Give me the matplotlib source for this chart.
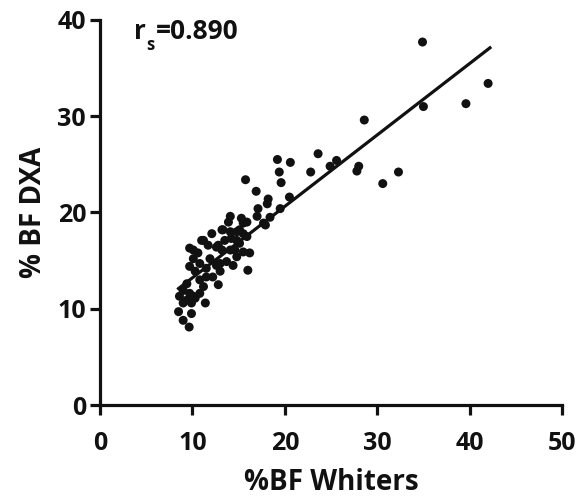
import numpy as np
import matplotlib.pyplot as plt

plt.rcParams['font.family'] = ['Open Sans', 'DejaVu Sans']
plt.rcParams['font.weight'] = 'bold'
plt.rcParams['mathtext.fontset'] = 'custom'
plt.rcParams['mathtext.rm'] = 'Open Sans:bold'
plt.rcParams['mathtext.it'] = 'Open Sans:bold'
plt.rcParams['mathtext.bf'] = 'Open Sans:bold'

# %BF Whiters (x) vs %BF DXA (y)
bf_whiters = [34.9, 42.0, 39.6, 35.0, 28.6, 23.6, 19.2, 20.6, 19.4, 19.6,
              22.8, 24.9, 25.6, 28.0, 27.8, 30.6, 32.3, 20.5, 19.5, 18.2,
              18.1, 17.9, 15.75, 16.9, 17.1, 17.0, 15.3, 15.9, 14.1, 13.9,
              15.5, 13.3, 14.1, 12.1, 11.0, 15.1, 15.9, 15.5, 14.8, 13.5,
              12.6, 9.7, 10.6, 10.1, 11.9, 13.2, 14.1, 15.1, 16.2, 14.8,
              13.7, 12.6, 11.5, 9.7, 10.3, 16.0, 14.4, 13.0, 11.5, 10.8,
              9.4, 11.2, 9.0, 12.8, 9.7, 10.8, 8.6, 9.4, 10.3, 9.0,
              9.9, 11.4, 8.5, 9.0, 9.9, 9.65, 11.2, 10.1, 12.8, 10.8,
              13.0, 12.2, 10.1, 13.2, 14.8, 11.7, 14.2, 14.6, 15.5, 18.4,
              17.7]
bf_dxa = [37.7, 33.4, 31.3, 31.0, 29.6, 26.1, 25.5, 25.2, 24.2, 23.1,
          24.2, 24.8, 25.4, 24.8, 24.3, 23.0, 24.2, 21.6, 20.4, 21.4,
          20.9, 18.7, 23.4, 22.2, 20.4, 19.6, 19.4, 19.0, 19.6, 19.0,
          18.9, 18.2, 18.0, 17.8, 17.1, 18.2, 17.5, 17.8, 17.1, 17.1,
          16.4, 16.3, 15.8, 15.2, 15.2, 16.1, 16.1, 16.8, 15.8, 15.4,
          14.9, 14.5, 14.2, 14.4, 13.9, 14.0, 14.5, 13.9, 13.3, 13.0,
          12.6, 12.3, 11.9, 12.5, 11.6, 11.6, 11.3, 10.9, 11.1, 10.6,
          10.6, 10.6, 9.7, 8.8, 9.5, 8.1, 17.1, 16.1, 16.6, 14.7,
          14.7, 13.3, 11.3, 18.2, 18.0, 16.6, 17.3, 16.1, 15.9, 19.5,
          18.9]

# regression line ends
line_x = [8.5, 42.2]
line_y = [12.1, 37.1]

fig = plt.figure(figsize=(5.79, 4.97), dpi=100)
ax = fig.add_axes([0.1727, 0.185, 0.798, 0.775])

ax.scatter(bf_whiters, bf_dxa, s=42, color='#111111', edgecolors='none',
           zorder=3, clip_on=False)
ax.plot(line_x, line_y, color='#111111', lw=2.3, zorder=2)

ax.set_xlim(0, 50)
ax.set_ylim(0, 40)
ax.set_xticks(range(0, 51, 10))
ax.set_yticks(range(0, 41, 10))

for s in ['top', 'right']:
    ax.spines[s].set_visible(False)
for s in ['left', 'bottom']:
    ax.spines[s].set_linewidth(2.3)
    ax.spines[s].set_color('#111111')

ax.tick_params(width=2.3, length=7, labelsize=18, color='#111111',
               labelcolor='#111111')
ax.tick_params(axis='x', pad=12)
ax.tick_params(axis='y', pad=3)
for lab in ax.get_xticklabels() + ax.get_yticklabels():
    lab.set_fontweight('bold')

ax.set_xlabel('%BF Whiters', fontsize=20, fontweight='bold',
              color='#111111', labelpad=8)
ax.set_ylabel('% BF DXA', fontsize=20, fontweight='bold',
              color='#111111', labelpad=7)

# r_s annotation, subscript drawn a bit lower like the original
ax.text(3.7, 38.0, 'r', fontsize=19, fontweight='bold', color='#111111',
        va='baseline')
ax.text(5.05, 36.9, 's', fontsize=12, fontweight='bold', color='#111111',
        va='baseline')
ax.text(6.1, 38.0, '=0.890', fontsize=19, fontweight='bold',
        color='#111111', va='baseline')

fig.savefig('out.png', dpi=100)
